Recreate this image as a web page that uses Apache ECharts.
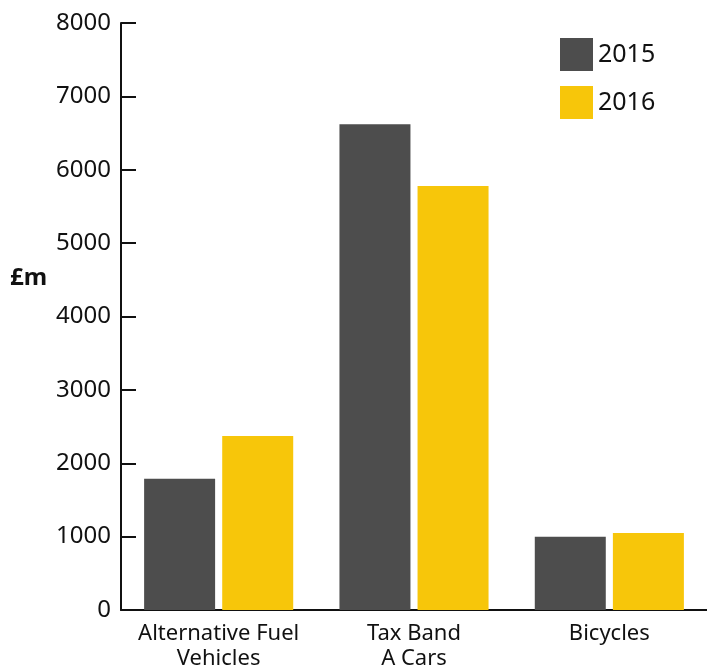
<!DOCTYPE html>
<html>
	<head>
		<meta charset="UTF-8">
		<title></title>
		<script src="https://cdn.jsdelivr.net/npm/echarts@6/dist/echarts.min.js"></script>
		<style type="text/css">
			body { margin: 0; background: #fff; }
		</style>
	</head>
	<body>
		<div id="box" style="width:707px;height:666px;"></div>

		<script type="text/javascript">
			var categories = ['Alternative Fuel\nVehicles', 'Tax Band\nA Cars', 'Bicycles'];
			var years = ['2015', '2016'];
			var values2015 = [1790, 6620, 1000];
			var values2016 = [2370, 5780, 1050];
			var yTicks = [0, 1000, 2000, 3000, 4000, 5000, 6000, 7000, 8000];

			var font = 'Noto Sans';
			var myChart = echarts.init(document.getElementById('box'));

			var option = {
				animation: false,
				textStyle: { fontFamily: font },
				grid: { left: 121, right: 0, top: 23, bottom: 56, outerBoundsMode: 'none' },
				legend: {
					data: years,
					orient: 'vertical',
					left: 560,
					top: 38,
					padding: 0,
					itemWidth: 33,
					itemHeight: 33,
					itemGap: 15,
					icon: 'rect',
					textStyle: { fontSize: 25, color: '#111', fontFamily: font }
				},
				graphic: [{
					type: 'text',
					left: 10,
					top: 266,
					style: { text: '£m', fontSize: 24, fontWeight: 'bold', fill: '#111', fontFamily: font }
				}],
				xAxis: {
					type: 'category',
					data: categories,
					axisLine: { lineStyle: { color: '#111', width: 2 } },
					axisTick: { inside: true, length: 14, lineStyle: { color: '#111', width: 2 } },
					axisLabel: {
						interval: 0, hideOverlap: false,
						fontSize: 22, color: '#111', lineHeight: 25, margin: 11, fontFamily: font
					}
				},
				yAxis: {
					type: 'value',
					min: yTicks[0],
					max: yTicks[yTicks.length - 1],
					interval: 1000,
					splitLine: { show: false },
					axisLine: { show: true, lineStyle: { color: '#111', width: 2 } },
					axisTick: { show: true, inside: true, length: 15, lineStyle: { color: '#111', width: 2 } },
					axisLabel: {
						fontSize: 24, color: '#111', margin: 10, fontFamily: font,
						formatter: function (v) { return String(v); }
					}
				},
				series: [{
					name: years[0],
					type: 'bar',
					barWidth: 71,
					barGap: '10%',
					itemStyle: { color: '#4d4d4d' },
					data: values2015
				}, {
					name: years[1],
					type: 'bar',
					barWidth: 71,
					barGap: '10%',
					itemStyle: { color: '#f7c60a' },
					data: values2016
				}]
			};
			myChart.setOption(option);
		</script>
	</body>
</html>
